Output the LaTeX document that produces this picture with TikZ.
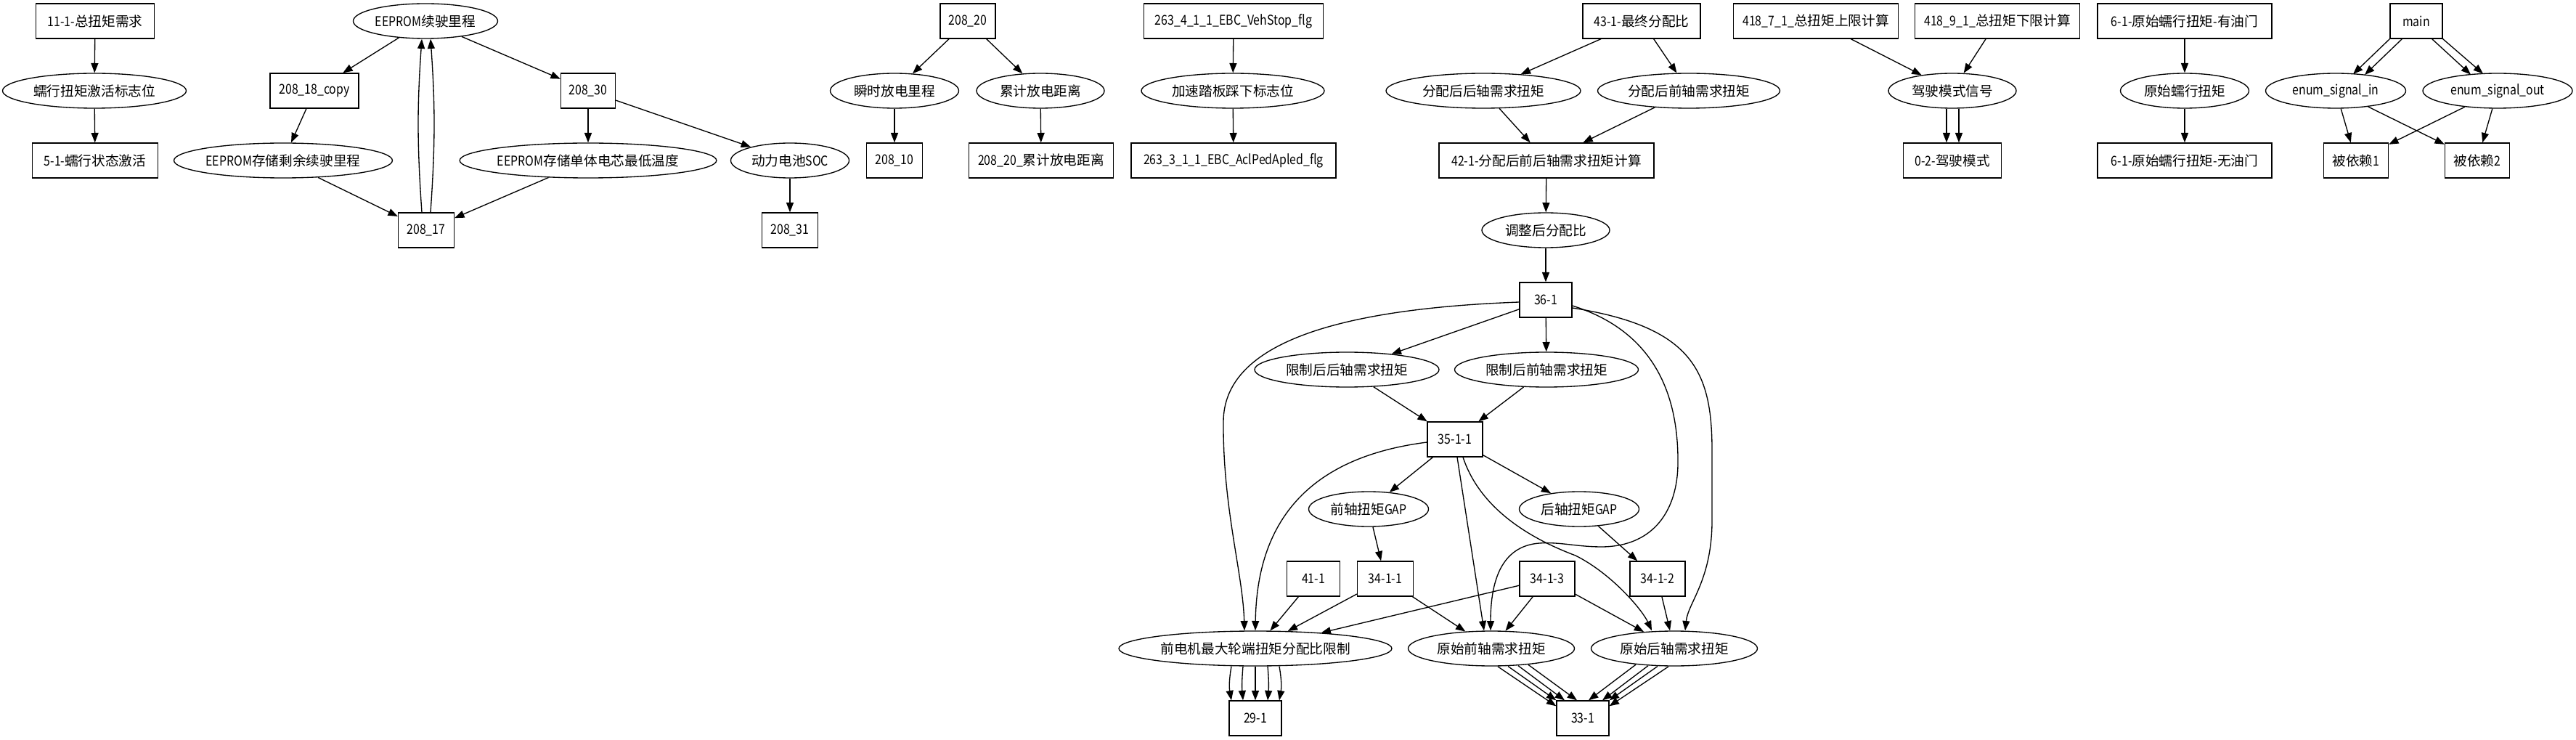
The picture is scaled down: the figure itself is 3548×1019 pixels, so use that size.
\documentclass[tikz,border=0pt]{standalone}
\usepackage{fontspec}
\setmainfont{Noto Sans CJK SC}
\newfontfamily\cjkf{Noto Sans CJK SC}
\newfontfamily\latf{Noto Sans CJK SC}[FakeStretch=0.85]
\usetikzlibrary{arrows.meta,shapes.geometric,calc}
\XeTeXinterchartokenstate=1
\newXeTeXintercharclass\cjkcls
\newcount\cjkcnt
\cjkcnt="4E00
\loop\XeTeXcharclass\cjkcnt=\cjkcls\relax\ifnum\cjkcnt<"9FFF\advance\cjkcnt by 1\repeat
\XeTeXinterchartoks 0 \cjkcls = {\cjkf}
\XeTeXinterchartoks 4095 \cjkcls = {\cjkf}
\XeTeXinterchartoks \cjkcls 0 = {\latf}
\begin{document}
\begin{tikzpicture}[x=0.75pt,y=-0.75pt,
  every node/.style={font=\latf\fontsize{14pt}{16pt}\selectfont, line width=1pt, inner sep=0pt},
  bx/.style={draw, rectangle, minimum height=36pt, minimum width=#1*0.75pt},
  el/.style={draw, ellipse, minimum height=36pt, minimum width=#1*0.75pt},
  arr/.style={line width=1pt, -{Triangle[length=10pt,width=7.5pt]}}]
\useasboundingbox (0,0) rectangle (3548,1019);
% ---------- left group
\node[bx=163] (n11) at (131,29) {11-1-总扭矩需求};
\node[el=253] (crawl) at (130,125) {蠕行扭矩激活标志位};
\node[bx=173] (n51) at (131,221) {5-1-蠕行状态激活};
% ---------- EEPROM group
\node[el=199] (eep) at (586,29) {EEPROM续驶里程};
\node[bx=122] (c18) at (433,125) {208\_18\_copy};
\node[bx=75] (b30) at (810,125) {208\_30};
\node[el=298] (eeprem) at (390,221) {EEPROM存储剩余续驶里程};
\node[el=347] (eeptemp) at (810,221) {EEPROM存储单体电芯最低温度};
\node[el=163] (soc) at (1088,221) {动力电池SOC};
\node[bx=77] (b17) at (587,317) {208\_17};
\node[bx=77] (b31) at (1088,317) {208\_31};
% ---------- 208_20 group
\node[bx=76] (b20) at (1333,29) {208\_20};
\node[el=177] (inst) at (1232,125) {瞬时放电里程};
\node[el=176] (cum) at (1433,125) {累计放电距离};
\node[bx=77] (b10) at (1232,221) {208\_10};
\node[bx=199] (b20c) at (1434,221) {208\_20\_累计放电距离};
% ---------- 263 group
\node[bx=247] (vs) at (1699,29) {263\_4\_1\_1\_EBC\_VehStop\_flg};
\node[el=252] (acc) at (1698,125) {加速踏板踩下标志位};
\node[bx=282] (ap) at (1699,221) {263\_3\_1\_1\_EBC\_AclPedApled\_flg};
% ---------- middle group
\node[bx=162] (b43) at (2261,29) {43-1-最终分配比};
\node[el=268] (ra) at (2043,125) {分配后后轴需求扭矩};
\node[el=251] (fa) at (2326,125) {分配后前轴需求扭矩};
\node[bx=296] (b42) at (2130,221) {42-1-分配后前后轴需求扭矩计算};
\node[el=176] (adj) at (2129,317) {调整后分配比};
\node[bx=72] (b36) at (2129,413) {36-1};
\node[el=254] (lr) at (1855,509) {限制后后轴需求扭矩};
\node[el=253] (lf) at (2130,509) {限制后前轴需求扭矩};
\node[bx=76] (b35) at (2004,605) {35-1-1};
\node[el=165] (fg) at (1885,701) {前轴扭矩GAP};
\node[el=165] (rg) at (2175,701) {后轴扭矩GAP};
\node[bx=73] (b41) at (1809,797) {41-1};
\node[bx=77] (b3411) at (1908,797) {34-1-1};
\node[bx=76] (b3413) at (2131,797) {34-1-3};
\node[bx=76] (b3412) at (2283,797) {34-1-2};
\node[el=376] (fm) at (1729,893) {前电机最大轮端扭矩分配比限制};
\node[el=229] (rawf) at (2054,893) {原始前轴需求扭矩};
\node[el=229] (rawr) at (2306,893) {原始后轴需求扭矩};
\node[bx=72] (b29) at (1729,989) {29-1};
\node[bx=72] (b33) at (2180,989) {33-1};
% ---------- drive mode group
\node[bx=227] (u7) at (2501,29) {418\_7\_1\_总扭矩上限计算};
\node[bx=227] (u9) at (2751,29) {418\_9\_1\_总扭矩下限计算};
\node[el=176] (dms) at (2689,125) {驾驶模式信号};
\node[bx=135] (dm) at (2689,221) {0-2-驾驶模式};
% ---------- creep group
\node[bx=240] (cya) at (3009,29) {6-1-原始蠕行扭矩-有油门};
\node[el=177] (rawc) at (3009,125) {原始蠕行扭矩};
\node[bx=240] (cwu) at (3009,221) {6-1-原始蠕行扭矩-无油门};
% ---------- main group
\node[bx=72] (main) at (3328,29) {main};
\node[el=193] (ein) at (3217,125) {enum\_signal\_in};
\node[el=206] (eout) at (3440,125) {enum\_signal\_out};
\node[bx=89] (dep1) at (3245,221) {被依赖1};
\node[bx=89] (dep2) at (3412,221) {被依赖2};

% ================= edges
\draw[arr] (n11) -- (crawl);
\draw[arr] (crawl) -- (n51);

\draw[arr] (eep) -- (c18);
\draw[arr] (eep) -- (b30);
\draw[arr] (c18) -- (eeprem);
\draw[arr] (eeprem) -- (b17);
\draw[arr] (b30) -- (eeptemp);
\draw[arr] (eeptemp) -- (b17);
\draw[arr] (b30) -- (soc);
\draw[arr] (soc) -- (b31);
\draw[arr] ($(b17.north)+(-6,0)$) to[bend left=4] ($(eep.south)+(-5,0)$);
\draw[arr] ($(b17.north)+(6,0)$) to[bend right=4] ($(eep.south)+(7,0)$);

\draw[arr] (b20) -- (inst);
\draw[arr] (b20) -- (cum);
\draw[arr] (inst) -- (b10);
\draw[arr] (cum) -- (b20c);

\draw[arr] (vs) -- (acc);
\draw[arr] (acc) -- (ap);

\draw[arr] (b43) -- (ra);
\draw[arr] (b43) -- (fa);
\draw[arr] (ra) -- (b42);
\draw[arr] (fa) -- (b42);
\draw[arr] (b42) -- (adj);
\draw[arr] (adj) -- (b36);
\draw[arr] (b36) -- (lr);
\draw[arr] (b36) -- (lf);
\draw[arr] (lr) -- (b35);
\draw[arr] (lf) -- (b35);
\draw[arr] (b35) -- (fg);
\draw[arr] (b35) -- (rg);
\draw[arr] (fg) -- (b3411);
\draw[arr] (rg) -- (b3412);
\draw[arr] (b41) -- (fm);
\draw[arr] (b3411) -- (fm);
\draw[arr] (b3411) -- (rawf);
\draw[arr] (b3413) -- (fm);
\draw[arr] (b3413) -- (rawf);
\draw[arr] (b3413) -- (rawr);
\draw[arr] (b3412) -- (rawr);
\draw[arr] ($(b35.south)+(3,0)$) -- ($(rawf.north)+(-10,0)$);
% long curves
\draw[arr] ($(b36.west)+(0,3)$) .. controls (1850,425) and (1686,470) .. (1685,580)
   .. controls (1684,700) and (1712,790) .. ($(fm.north)+(-15,0)$);
\draw[arr] ($(b36.east)+(0,8)$) .. controls (2290,460) and (2312,560) .. (2311,640)
   .. controls (2310,700) and (2280,752) .. (2207,753)
   .. controls (2170,753) and (2150,746) .. (2120,748)
   .. controls (2068,752) and (2053,800) .. ($(rawf.north)+(-1,0)$);
\draw[arr] ($(b36.east)+(0,11)$) .. controls (2330,450) and (2358,510) .. (2358,620)
   -- (2358,720) .. controls (2357,800) and (2325,830) .. ($(rawr.north)+(15,0)$);
\draw[arr] ($(b35.west)+(0,4)$) .. controls (1800,630) and (1731,720) .. (fm.north);
\draw[arr] ($(b35.south)+(11,0)$) .. controls (2035,690) and (2090,735) .. (2170,765)
   .. controls (2220,790) and (2262,840) .. ($(rawr.north)+(-31,0)$);
% bundles
\draw[arr] ($(fm.south)+(-33,0)$) to[bend right=10] ($(b29.north)+(-33,0)$);
\draw[arr] ($(fm.south)+(-17,0)$) to[bend right=5] ($(b29.north)+(-17,0)$);
\draw[arr] (fm.south) -- (b29.north);
\draw[arr] ($(fm.south)+(17,0)$) to[bend left=5] ($(b29.north)+(17,0)$);
\draw[arr] ($(fm.south)+(33,0)$) to[bend left=10] ($(b29.north)+(33,0)$);

\draw[arr] ($(rawf.center)+(9,24.9)$) -- ($(b33.north west)+(0,8)$);
\draw[arr] ($(rawf.center)+(23,24.5)$) -- (b33.north west);
\draw[arr] ($(rawf.center)+(37,23.7)$) -- ($(b33.north)+(-25,0)$);
\draw[arr] ($(rawf.center)+(51,22.4)$) -- ($(b33.north)+(-8,0)$);
\draw[arr] ($(rawr.center)+(-53,22.2)$) -- ($(b33.north)+(8,0)$);
\draw[arr] ($(rawr.center)+(-36,23.7)$) -- ($(b33.north)+(27,0)$);
\draw[arr] ($(rawr.center)+(-23,24.5)$) -- (b33.north east);
\draw[arr] ($(rawr.center)+(-8,24.9)$) -- ($(b33.north east)+(0,8)$);

\draw[arr] (u7) -- (dms);
\draw[arr] (u9) -- (dms);
\draw[arr] ($(dms.south)+(-8,0)$) -- ($(dm.north)+(-8,0)$);
\draw[arr] ($(dms.south)+(9,0)$) -- ($(dm.north)+(9,0)$);

\draw[arr] (cya) -- (rawc);
\draw[arr] (rawc) -- (cwu);

\draw[arr] (main.south west) -- ($(ein.center)+(24,-23)$);
\draw[arr] ($(main.south west)+(17,0)$) -- ($(ein.center)+(40,-22)$);
\draw[arr] ($(main.south east)+(-15,0)$) -- ($(eout.center)+(-37,-22.4)$);
\draw[arr] (main.south east) -- ($(eout.center)+(-20,-23.5)$);
\draw[arr] (ein) -- (dep1);
\draw[arr] (ein) -- (dep2);
\draw[arr] (eout) -- (dep1);
\draw[arr] (eout) -- (dep2);
\end{tikzpicture}
\end{document}
